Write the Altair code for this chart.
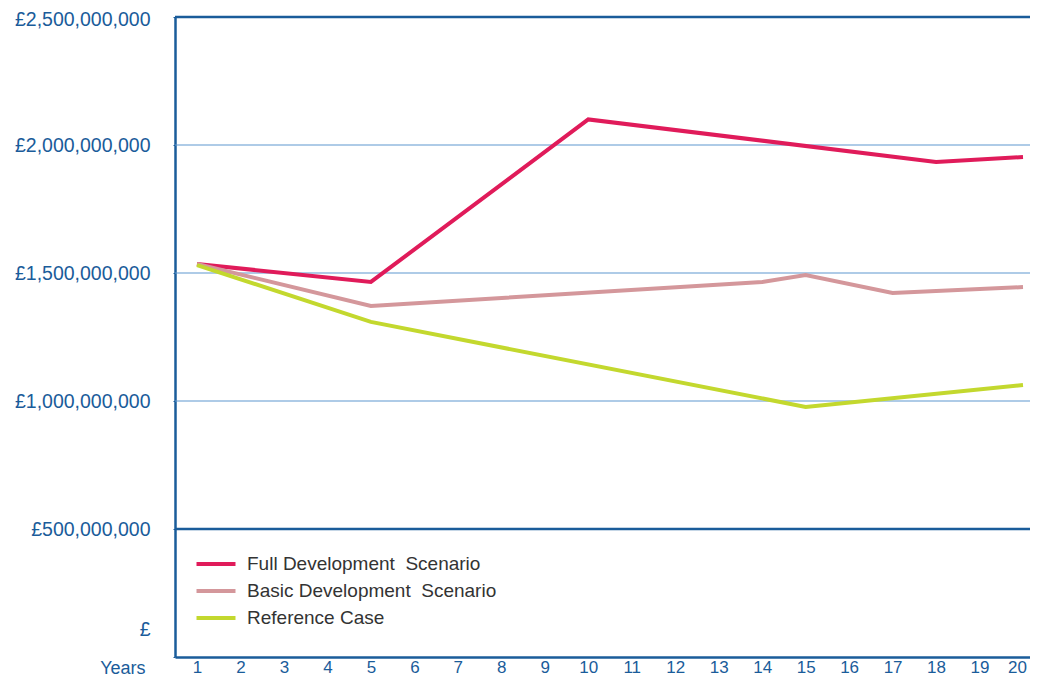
import altair as alt
import pandas as pd

series_names = ["Full Development\u00a0 Scenario", "Basic Development\u00a0 Scenario", "Reference Case"]
series_colors = ["#E01B5A", "#D4979B", "#C3D82E"]

full_years = [1, 5, 10, 18, 20]
full_vals = [1.535e9, 1.465e9, 2.10e9, 1.934e9, 1.953e9]

basic_years = [1, 5, 14, 15, 17, 20]
basic_vals = [1.535e9, 1.371e9, 1.465e9, 1.492e9, 1.422e9, 1.445e9]

ref_years = [1, 5, 15, 20]
ref_vals = [1.531e9, 1.309e9, 0.977e9, 1.0625e9]

x_ticks = list(range(1, 21))
y_ticks = [0, 5e8, 1e9, 1.5e9, 2e9, 2.5e9]
dark_lines = [5e8, 2.5e9]
light_lines = [1e9, 1.5e9, 2e9]

rows = []
for name, ys, vs in zip(series_names, [full_years, basic_years, ref_years], [full_vals, basic_vals, ref_vals]):
    for i, (y, v) in enumerate(zip(ys, vs)):
        rows.append({"series": name, "year": y, "value": v, "order": i})
df = pd.DataFrame(rows)
df_dark = pd.DataFrame({"value": dark_lines})
df_light = pd.DataFrame({"value": light_lines})

DARK = "#1A5C9A"
LIGHT = "#5E98D0"
FONT = "Liberation Sans"

x_axis = alt.Axis(
    values=x_ticks, title="Years", titleX=-30, titleY=11, titleAlign="right",
    titleBaseline="middle", titleFontSize=18, titleFontWeight="normal", titleColor=DARK,
    titleFont=FONT, labelFont=FONT, labelFontSize=17, labelColor=DARK, labelPadding=2,
    labelOffset={"condition": {"test": "datum.value == 20", "value": -6}, "value": 0},
    ticks=False, grid=False, domainColor=DARK, domainWidth=2.5, labelFlush=False,
)
y_axis = alt.Axis(
    values=y_ticks, title=None,
    labelExpr="datum.value == 0 ? '£' : '£' + format(datum.value, ',')",
    labelFont=FONT, labelFontSize=19.5, labelColor=DARK, labelPadding=23,
    labelOffset={"condition": [{"test": "datum.value == 0", "value": -28},
                               {"test": "datum.value == 2500000000", "value": 2}],
                 "value": 0},
    tickSize=2, tickColor=DARK, domainColor=DARK, domainWidth=2.5,
    grid=False, labelFlush=False,
)

x_enc = alt.X("year:Q", scale=alt.Scale(domain=[0.494, 20.161], nice=False, zero=False), axis=x_axis)
y_scale = alt.Scale(domain=[0, 2.5e9], nice=False)

lines = alt.Chart(df).mark_line(strokeWidth=4).encode(
    x=x_enc,
    y=alt.Y("value:Q", scale=y_scale, axis=y_axis),
    color=alt.Color(
        "series:N",
        scale=alt.Scale(domain=series_names, range=series_colors),
        sort=series_names,
        legend=alt.Legend(
            title=None, orient="none", legendX=29, legendY=535, direction="vertical",
            symbolType="M-2,0H2", symbolStrokeWidth=4, symbolSize=380,
            labelFont=FONT, labelFontSize=19, labelColor="#333333", labelOffset=19,
            labelLimit=500, rowPadding=5, padding=0,
        ),
    ),
    order="order:Q",
)

light_rules = alt.Chart(df_light).mark_rule(color=LIGHT, strokeWidth=1.2).encode(
    y=alt.Y("value:Q", scale=y_scale, axis=y_axis),
)
dark_rules = alt.Chart(df_dark).mark_rule(color=DARK, strokeWidth=2.5).encode(
    y=alt.Y("value:Q", scale=y_scale, axis=y_axis),
)

chart = alt.layer(light_rules, dark_rules, lines).properties(
    width=855, height=640,
    autosize=alt.AutoSizeParams(type="none"),
    padding={"left": 167, "top": 9, "right": 0, "bottom": 20},
).configure_view(stroke=None).configure(background="white")

chart.save("out.html", embed_options={"renderer": "svg", "actions": False})
